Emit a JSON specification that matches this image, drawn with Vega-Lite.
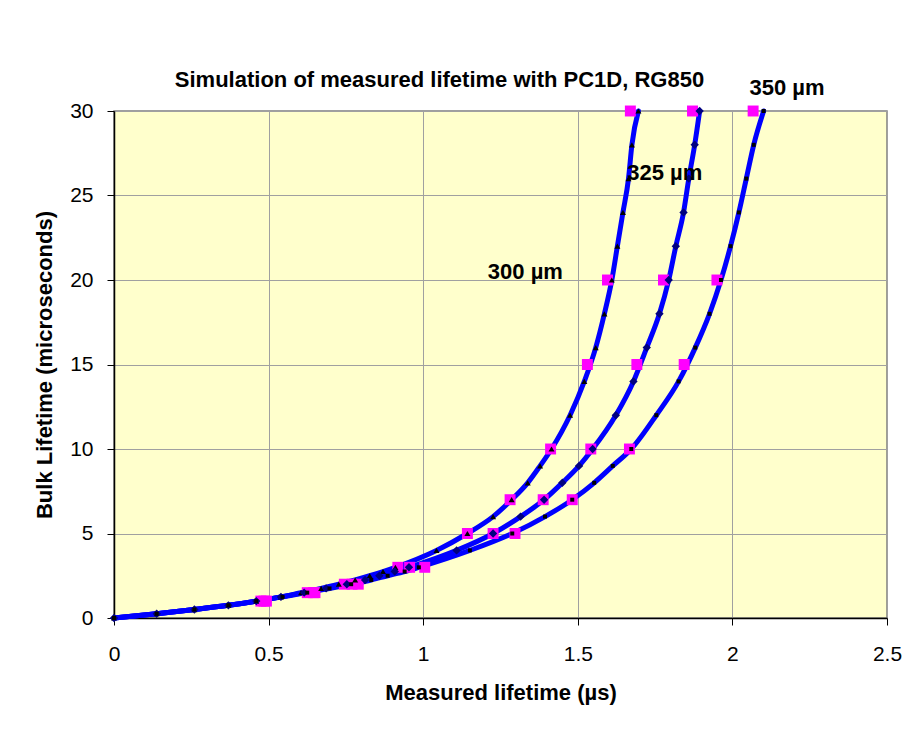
{
  "$schema": "https://vega.github.io/schema/vega-lite/v6.json",
  "autosize": {"type": "none"},
  "padding": {"left": 114, "top": 111, "right": 23, "bottom": 114},
  "width": 773,
  "height": 507,
  "background": "white",
  "config": {
    "font": "Liberation Sans",
    "view": {"fill": "#FFFFCC", "stroke": "#808080", "strokeWidth": 1.5},
    "axis": {
      "grid": true,
      "gridColor": "#a0a0a0",
      "gridWidth": 1,
      "domainColor": "#000000",
      "domainWidth": 1.5,
      "tickColor": "#000000",
      "tickSize": 7,
      "tickWidth": 1,
      "labelFont": "Liberation Sans",
      "labelFontSize": 21,
      "labelColor": "#000000",
      "titleFont": "Liberation Sans",
      "titleFontSize": 22,
      "titleFontWeight": "bold",
      "titleColor": "#000000"
    }
  },
  "title": {
    "text": "Simulation of measured lifetime with PC1D, RG850",
    "font": "Liberation Sans",
    "fontSize": 22,
    "fontWeight": "bold",
    "color": "#000000",
    "anchor": "middle",
    "dx": -61,
    "baseline": "alphabetic",
    "offset": -32
  },
  "datasets": {
    "sim": [
      {"t": "300", "x": 0, "y": 0}, {"t": "300", "x": 0.138, "y": 0.25}, {"t": "300", "x": 0.26, "y": 0.5}, {"t": "300", "x": 0.37, "y": 0.75},
      {"t": "300", "x": 0.46, "y": 1}, {"t": "300", "x": 0.54, "y": 1.25}, {"t": "300", "x": 0.605, "y": 1.5}, {"t": "300", "x": 0.67, "y": 1.75},
      {"t": "300", "x": 0.727, "y": 2}, {"t": "300", "x": 0.78, "y": 2.25}, {"t": "300", "x": 0.827, "y": 2.5}, {"t": "300", "x": 0.87, "y": 2.75},
      {"t": "300", "x": 0.91, "y": 3}, {"t": "300", "x": 1.043, "y": 4}, {"t": "300", "x": 1.143, "y": 5}, {"t": "300", "x": 1.226, "y": 6},
      {"t": "300", "x": 1.286, "y": 7}, {"t": "300", "x": 1.338, "y": 8}, {"t": "300", "x": 1.378, "y": 9}, {"t": "300", "x": 1.415, "y": 10},
      {"t": "300", "x": 1.475, "y": 12}, {"t": "300", "x": 1.521, "y": 14}, {"t": "300", "x": 1.558, "y": 16}, {"t": "300", "x": 1.586, "y": 18},
      {"t": "300", "x": 1.61, "y": 20}, {"t": "300", "x": 1.628, "y": 22}, {"t": "300", "x": 1.646, "y": 24}, {"t": "300", "x": 1.664, "y": 26},
      {"t": "300", "x": 1.675, "y": 28}, {"t": "300", "x": 1.696, "y": 30},
      {"t": "325", "x": 0, "y": 0}, {"t": "325", "x": 0.138, "y": 0.25}, {"t": "325", "x": 0.26, "y": 0.5}, {"t": "325", "x": 0.37, "y": 0.75},
      {"t": "325", "x": 0.46, "y": 1}, {"t": "325", "x": 0.54, "y": 1.25}, {"t": "325", "x": 0.615, "y": 1.5}, {"t": "325", "x": 0.686, "y": 1.75},
      {"t": "325", "x": 0.753, "y": 2}, {"t": "325", "x": 0.812, "y": 2.25}, {"t": "325", "x": 0.858, "y": 2.5}, {"t": "325", "x": 0.908, "y": 2.75},
      {"t": "325", "x": 0.954, "y": 3}, {"t": "325", "x": 1.108, "y": 4}, {"t": "325", "x": 1.226, "y": 5}, {"t": "325", "x": 1.315, "y": 6},
      {"t": "325", "x": 1.391, "y": 7}, {"t": "325", "x": 1.45, "y": 8}, {"t": "325", "x": 1.504, "y": 9}, {"t": "325", "x": 1.548, "y": 10},
      {"t": "325", "x": 1.623, "y": 12}, {"t": "325", "x": 1.68, "y": 14}, {"t": "325", "x": 1.723, "y": 16}, {"t": "325", "x": 1.764, "y": 18},
      {"t": "325", "x": 1.794, "y": 20}, {"t": "325", "x": 1.817, "y": 22}, {"t": "325", "x": 1.842, "y": 24}, {"t": "325", "x": 1.859, "y": 26},
      {"t": "325", "x": 1.878, "y": 28}, {"t": "325", "x": 1.894, "y": 30},
      {"t": "350", "x": 0, "y": 0}, {"t": "350", "x": 0.138, "y": 0.25}, {"t": "350", "x": 0.26, "y": 0.5}, {"t": "350", "x": 0.37, "y": 0.75},
      {"t": "350", "x": 0.46, "y": 1}, {"t": "350", "x": 0.545, "y": 1.25}, {"t": "350", "x": 0.625, "y": 1.5}, {"t": "350", "x": 0.697, "y": 1.75},
      {"t": "350", "x": 0.767, "y": 2}, {"t": "350", "x": 0.832, "y": 2.25}, {"t": "350", "x": 0.885, "y": 2.5}, {"t": "350", "x": 0.94, "y": 2.75},
      {"t": "350", "x": 0.986, "y": 3}, {"t": "350", "x": 1.151, "y": 4}, {"t": "350", "x": 1.288, "y": 5}, {"t": "350", "x": 1.394, "y": 6},
      {"t": "350", "x": 1.482, "y": 7}, {"t": "350", "x": 1.553, "y": 8}, {"t": "350", "x": 1.613, "y": 9}, {"t": "350", "x": 1.673, "y": 10},
      {"t": "350", "x": 1.754, "y": 12}, {"t": "350", "x": 1.826, "y": 14}, {"t": "350", "x": 1.88, "y": 16}, {"t": "350", "x": 1.926, "y": 18},
      {"t": "350", "x": 1.963, "y": 20}, {"t": "350", "x": 1.994, "y": 22}, {"t": "350", "x": 2.021, "y": 24}, {"t": "350", "x": 2.045, "y": 26},
      {"t": "350", "x": 2.069, "y": 28}, {"t": "350", "x": 2.101, "y": 30}
    ],
    "meas": [
      {"t": "300", "x": 0.475, "y": 1}, {"t": "300", "x": 0.625, "y": 1.5}, {"t": "300", "x": 0.745, "y": 2}, {"t": "300", "x": 0.918, "y": 3},
      {"t": "300", "x": 1.143, "y": 5}, {"t": "300", "x": 1.281, "y": 7}, {"t": "300", "x": 1.412, "y": 10}, {"t": "300", "x": 1.531, "y": 15},
      {"t": "300", "x": 1.596, "y": 20}, {"t": "300", "x": 1.67, "y": 30},
      {"t": "325", "x": 0.485, "y": 1}, {"t": "325", "x": 0.645, "y": 1.5}, {"t": "325", "x": 0.77, "y": 2}, {"t": "325", "x": 0.956, "y": 3},
      {"t": "325", "x": 1.226, "y": 5}, {"t": "325", "x": 1.388, "y": 7}, {"t": "325", "x": 1.542, "y": 10}, {"t": "325", "x": 1.691, "y": 15},
      {"t": "325", "x": 1.777, "y": 20}, {"t": "325", "x": 1.871, "y": 30},
      {"t": "350", "x": 0.493, "y": 1}, {"t": "350", "x": 0.65, "y": 1.5}, {"t": "350", "x": 0.79, "y": 2}, {"t": "350", "x": 1.005, "y": 3},
      {"t": "350", "x": 1.297, "y": 5}, {"t": "350", "x": 1.482, "y": 7}, {"t": "350", "x": 1.667, "y": 10}, {"t": "350", "x": 1.844, "y": 15},
      {"t": "350", "x": 1.95, "y": 20}, {"t": "350", "x": 2.067, "y": 30}
    ],
    "labels": [
      {"label": "300 µm", "x": 1.209, "y": 20.06},
      {"label": "325 µm", "x": 1.66, "y": 25.9},
      {"label": "350 µm", "x": 2.055, "y": 30.95}
    ]
  },
  "encoding": {
    "x": {
      "field": "x", "type": "quantitative",
      "scale": {"domain": [0, 2.5], "nice": false, "zero": false},
      "axis": {"title": "Measured lifetime (µs)", "values": [0, 0.5, 1, 1.5, 2, 2.5], "format": "~g", "labelPadding": 18, "titleBaseline": "alphabetic", "titleY": 81, "labelFlush": false}
    },
    "y": {
      "field": "y", "type": "quantitative",
      "scale": {"domain": [0, 30], "nice": false},
      "axis": {"title": "Bulk Lifetime (microseconds)", "values": [0, 5, 10, 15, 20, 25, 30], "labelPadding": 14, "titleAngle": -90, "titleBaseline": "alphabetic", "titleAlign": "center", "titleX": -63, "titleY": 253.5, "labelFlush": false}
    }
  },
  "layer": [
    {
      "data": {"name": "sim"},
      "mark": {"type": "line", "color": "#0000FF", "strokeWidth": 5, "interpolate": "monotone", "strokeCap": "round", "strokeJoin": "round"},
      "encoding": {"detail": {"field": "t"}, "order": {"field": "y", "type": "quantitative"}}
    },
    {
      "data": {"name": "meas"},
      "mark": {"type": "point", "shape": "square", "filled": true, "color": "#FF00FF", "size": 120, "opacity": 1}
    },
    {
      "data": {"name": "sim"},
      "transform": [{"filter": "datum.t === '300'"}],
      "mark": {"type": "point", "shape": "triangle-up", "filled": true, "color": "#000000", "size": 36, "opacity": 1}
    },
    {
      "data": {"name": "sim"},
      "transform": [{"filter": "datum.t === '325'"}],
      "mark": {"type": "point", "shape": "diamond", "filled": true, "color": "#000080", "size": 70, "opacity": 1}
    },
    {
      "data": {"name": "sim"},
      "transform": [{"filter": "datum.t === '350'"}],
      "mark": {"type": "point", "shape": "square", "filled": true, "color": "#000000", "size": 16, "opacity": 1}
    },
    {
      "data": {"name": "labels"},
      "mark": {"type": "text", "font": "Liberation Sans", "fontSize": 22, "fontWeight": "bold", "align": "left", "baseline": "alphabetic", "color": "#000000"},
      "encoding": {"text": {"field": "label"}}
    }
  ]
}
